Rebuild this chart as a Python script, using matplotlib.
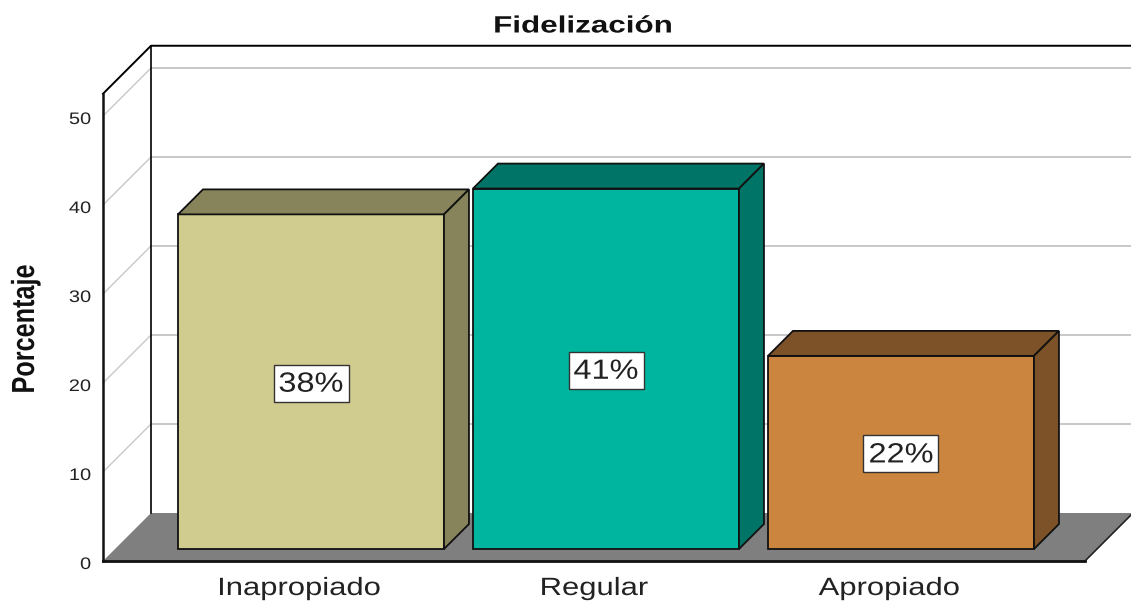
#!/usr/bin/python
# Oblique 3D style bar chart drawn on a flat matplotlib axes
import matplotlib
matplotlib.use('Agg')
import matplotlib.pyplot as plt
from matplotlib.patches import Polygon, Rectangle
from matplotlib.patheffects import AbstractPathEffect
from matplotlib.transforms import Affine2D

plt.rcParams['font.family'] = ['Liberation Sans', 'DejaVu Sans']

categories = ['Inapropiado', 'Regular', 'Apropiado']
values = [37.6, 40.5, 21.7]
bar_labels = ['38%', '41%', '22%']
y_ticks = [0, 10, 20, 30, 40, 50]
y_top = 52.5

front_colors = ['#D0CB8F', '#00B5A0', '#CB853F']
side_colors = ['#87835A', '#007466', '#7E5228']

W, H = 1131, 602
PX_X = 295.0   # pixels per category
PX_Y = 8.9     # pixels per percent
X0, Y0 = 299, 561  # pixel position of category 0 / value 0
DEPTH_PX = 48
BAR_W = 266 / PX_X


class Stretch(AbstractPathEffect):
    # the source picture has its text rescaled, this changes a text's width the same way
    def __init__(self, sx, anchor='center'):
        super().__init__()
        self.sx = sx
        self.anchor = anchor

    def draw_path(self, renderer, gc, tpath, affine, rgbFace=None):
        box = tpath.get_extents()
        ref = box.x1 if self.anchor == 'right' else (box.x0 + box.x1) / 2
        stretch = Affine2D().translate(-ref, 0).scale(self.sx, 1).translate(ref, 0)
        renderer.draw_path(gc, tpath, stretch + affine, rgbFace)


fig = plt.figure(figsize=(W / 100, H / 100), dpi=100)
ax = fig.add_axes([0, 0, 1, 1])
ax.set_xlim(-X0 / PX_X, (W - X0) / PX_X)
ax.set_ylim((Y0 - H) / PX_Y, Y0 / PX_Y)
ax.axis('off')


def pt(x, y, d=0.0):
    # d is depth, 0 front plane and 1 back wall
    return (x + d * DEPTH_PX / PX_X, y + d * DEPTH_PX / PX_Y)


x_left = (103 - X0) / PX_X
x_right = (1085 - X0) / PX_X

# floor
ax.add_patch(Polygon([pt(x_left, 0), pt(x_right, 0), pt(x_right, 0, 1), pt(x_left, 0, 1)],
                     facecolor='#7F7F7F', edgecolor='none', zorder=1))

# gridlines on left and back walls
for v in y_ticks[1:]:
    a, b, c = pt(x_left, v), pt(x_left, v, 1), pt(x_right, v, 1)
    ax.plot([a[0], b[0]], [a[1], b[1]], color='#C8C8C8', lw=1.0, zorder=2)
    ax.plot([b[0], c[0]], [b[1], c[1]], color='#C8C8C8', lw=1.4, zorder=2)

# frame
a, b, c = pt(x_left, y_top), pt(x_left, y_top, 1), pt(x_right, y_top, 1)
ax.plot([a[0], b[0], c[0]], [a[1], b[1], c[1]], color='black', lw=1.4, zorder=3)
a, b = pt(x_left, 0, 1), pt(x_left, y_top, 1)
ax.plot([a[0], b[0]], [a[1], b[1]], color='black', lw=1.2, zorder=3)
a, b = pt(x_left, 0), pt(x_left, y_top)
ax.plot([a[0], b[0]], [a[1], b[1]], color='#111111', lw=1.8, zorder=6)
a, b = pt(x_left, 0), pt(x_right, 0)
ax.plot([a[0], b[0]], [a[1], b[1]], color='#111111', lw=2.0, zorder=6)
a, b = pt(x_right, 0), pt(x_right, 0, 1)
ax.plot([a[0], b[0]], [a[1], b[1]], color='#222222', lw=1.2, zorder=3)

# bars, set back a quarter of the way into the chart
d0, d1 = 0.25, 0.77
box_w, box_h = 75 / PX_X, 37 / PX_Y
for i, v in enumerate(values):
    l, r = i - BAR_W / 2, i + BAR_W / 2
    ax.add_patch(Polygon([pt(l, 0, d0), pt(r, 0, d0), pt(r, v, d0), pt(l, v, d0)],
                         facecolor=front_colors[i], edgecolor='#111111', lw=1.3, zorder=4))
    ax.add_patch(Polygon([pt(l, v, d0), pt(r, v, d0), pt(r, v, d1), pt(l, v, d1)],
                         facecolor=side_colors[i], edgecolor='#111111', lw=1.3, zorder=4))
    ax.add_patch(Polygon([pt(r, 0, d0), pt(r, 0, d1), pt(r, v, d1), pt(r, v, d0)],
                         facecolor=side_colors[i], edgecolor='#111111', lw=1.3, zorder=4))
    cx, cy = pt(i, v / 2, d0)
    cy -= 1.5 / PX_Y
    ax.add_patch(Rectangle((cx - box_w / 2, cy - box_h / 2), box_w, box_h, facecolor='white',
                           edgecolor='#333333', lw=1.0, zorder=5))
    ax.text(cx, cy - 1.5 / PX_Y, bar_labels[i], ha='center', va='center', fontsize=20,
            color='#222222', zorder=6, path_effects=[Stretch(1.17)])

# tick labels
for v in y_ticks:
    ax.text(x_left - 12 / PX_X, v - 3.5 / PX_Y, str(v), ha='right', va='center', fontsize=12,
            color='#222222', path_effects=[Stretch(1.2, 'right')])
for i, c in enumerate(categories):
    ax.text(i, -27 / PX_Y, c, ha='center', va='center', fontsize=18,
            color='#222222', path_effects=[Stretch(1.24)])

# titles, placed with axes fractions
ax.text(583 / W, 1 - 26 / H, 'Fidelización', transform=ax.transAxes, ha='center', va='center',
        fontsize=17, fontweight='bold', color='#111111', path_effects=[Stretch(1.33)])
ax.text(26 / W, 1 - 329 / H, 'Porcentaje', transform=ax.transAxes, ha='center', va='center',
        rotation=90, fontsize=23, fontweight='bold', color='#111111',
        path_effects=[Stretch(0.79)])

fig.savefig('out.png', dpi=100)
